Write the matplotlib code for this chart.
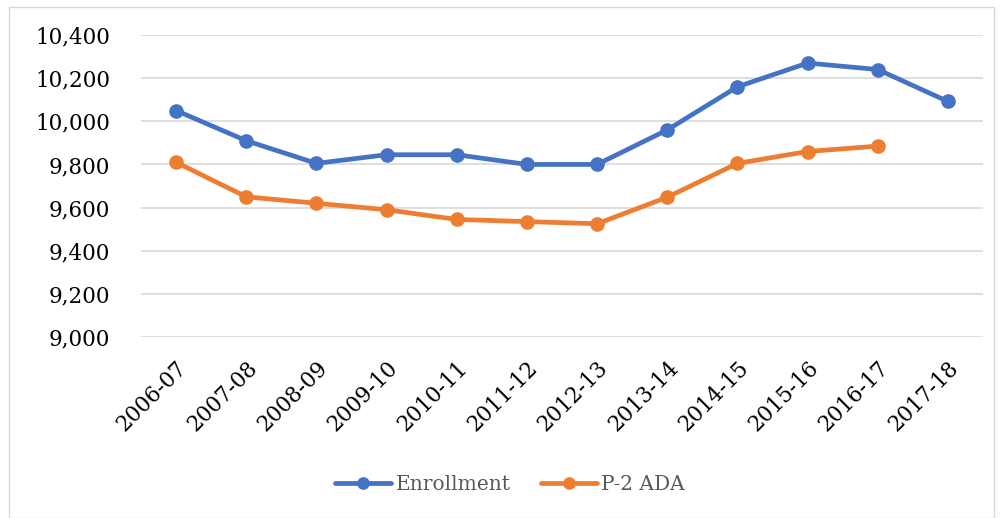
import matplotlib.pyplot as plt
from matplotlib.patches import Rectangle
from matplotlib.ticker import FuncFormatter

# school years on the x axis
years = ["2006-07", "2007-08", "2008-09", "2009-10", "2010-11", "2011-12",
         "2012-13", "2013-14", "2014-15", "2015-16", "2016-17", "2017-18"]

# values
enrollment = [10050, 9910, 9805, 9845, 9845, 9800, 9800, 9960, 10160, 10270, 10240, 10092]
p2_ada = [9810, 9650, 9620, 9590, 9545, 9535, 9525, 9648, 9805, 9860, 9885]

yticks = [9000, 9200, 9400, 9600, 9800, 10000, 10200, 10400]

plt.rcParams['font.family'] = ['DejaVu Serif']

fig = plt.figure(figsize=(10, 5.18), dpi=100)
ax = fig.add_axes([0.141, 0.3494, 0.842, 0.583])

# light frame round the whole chart, like the Excel chart area
fig.patches.append(Rectangle((0.009, 0.0), 0.985, 0.987, transform=fig.transFigure,
                             fill=False, edgecolor='#D9D9D9', linewidth=1))

x1 = list(range(len(enrollment)))
x2 = list(range(len(p2_ada)))
ax.plot(x1, enrollment, color='#4472C4', linewidth=3.4, marker='o', markersize=9.5,
        label='Enrollment', solid_capstyle='round', zorder=3)
ax.plot(x2, p2_ada, color='#ED7D31', linewidth=3.4, marker='o', markersize=9.5,
        label='P-2 ADA', solid_capstyle='round', zorder=3)

ax.set_xlim(-0.5, len(years) - 0.5)
ax.set_ylim(9000, 10400)
ax.set_yticks(yticks)
ax.yaxis.set_major_formatter(FuncFormatter(lambda v, p: f"{int(v):,}"))
ax.set_xticks(range(len(years)))
ax.set_xticklabels(years, rotation=45, ha='right', rotation_mode='anchor')

ax.grid(axis='y', color='#D9D9D9', linewidth=1.2)
ax.set_axisbelow(True)
for s in ax.spines.values():
    s.set_visible(False)
ax.tick_params(axis='both', length=0, labelsize=15.5, colors='black')
ax.tick_params(axis='y', pad=22)
ax.tick_params(axis='x', pad=14)

leg = fig.legend(loc='center', bbox_to_anchor=(0.51, 0.064), ncol=2, frameon=False,
                 fontsize=14.5, handlelength=2.8, columnspacing=1.5, handletextpad=0.2,
                 markerscale=0.85)
for t in leg.get_texts():
    t.set_color('#595959')

fig.savefig('out.png', dpi=100)
